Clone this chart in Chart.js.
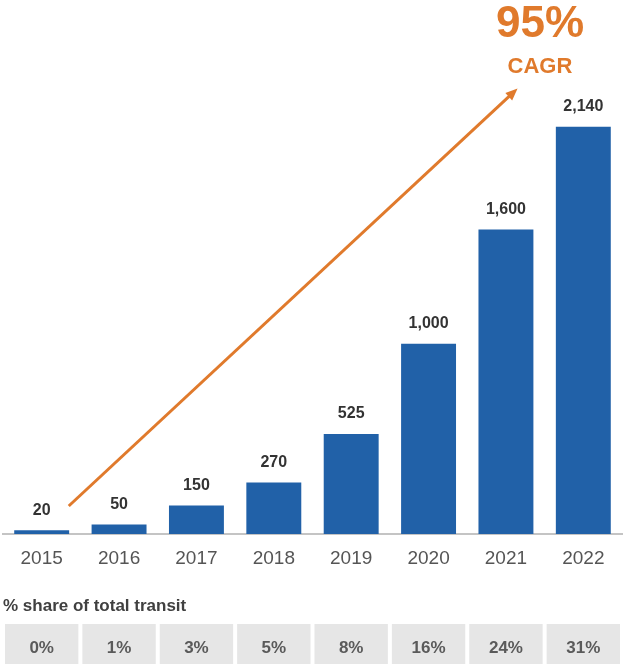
<!DOCTYPE html>
<html lang="en">
<head>
    <meta charset="UTF-8">
    <title>Transit growth 2015-2022</title>
    <script src="https://cdn.jsdelivr.net/npm/chart.js"></script>
    <style>
        html, body { margin: 0; padding: 0; background: #fff; }
        #wrap { width: 625px; height: 664px; position: relative; }
    </style>
</head>
<body>
    <div id="wrap">
        <canvas id="transitChart"></canvas>
    </div>

    <script>
        const years = ['2015', '2016', '2017', '2018', '2019', '2020', '2021', '2022'];
        const volumes = [20, 50, 150, 270, 525, 1000, 1600, 2140];
        const valueLabels = ['20', '50', '150', '270', '525', '1,000', '1,600', '2,140'];
        const shareLabels = ['0%', '1%', '3%', '5%', '8%', '16%', '24%', '31%'];
        const shareTitle = '% share of total transit';
        const cagrText = '95%';
        const cagrSub = 'CAGR';

        const BLUE = '#2161a8';
        const ORANGE = '#e07a2c';
        const FONT = '"Liberation Sans", Arial, sans-serif';

        // growth arrow, in category index / value units
        const arrowFrom = { x: 0.35, y: 147 };
        const arrowTo = { x: 6.15, y: 2340 };
        const cagrPos = { x: 6.44, y: 2675 };
        const cagrSubPos = { x: 6.44, y: 2455 };

        const overlay = {
            id: 'overlay',
            afterDatasetsDraw(chart) {
                const ctx = chart.ctx;
                const xs = chart.scales.x;
                const ys = chart.scales.y;
                const meta = chart.getDatasetMeta(0);

                ctx.save();
                // value labels over bars
                ctx.fillStyle = '#333';
                ctx.font = 'bold 16px ' + FONT;
                ctx.textAlign = 'center';
                ctx.textBaseline = 'middle';
                meta.data.forEach((bar, i) => {
                    ctx.fillText(valueLabels[i], bar.x, bar.y - 20);
                });

                // CAGR arrow
                const x1 = xs.getPixelForValue(arrowFrom.x), y1 = ys.getPixelForValue(arrowFrom.y);
                const x2 = xs.getPixelForValue(arrowTo.x), y2 = ys.getPixelForValue(arrowTo.y);
                const ang = Math.atan2(y2 - y1, x2 - x1);
                ctx.strokeStyle = ORANGE;
                ctx.fillStyle = ORANGE;
                ctx.lineWidth = 3;
                ctx.beginPath();
                ctx.moveTo(x1, y1);
                ctx.lineTo(x2 - 6 * Math.cos(ang), y2 - 6 * Math.sin(ang));
                ctx.stroke();
                ctx.beginPath();
                ctx.moveTo(x2, y2);
                ctx.lineTo(x2 - 12 * Math.cos(ang) + 5 * Math.sin(ang), y2 - 12 * Math.sin(ang) - 5 * Math.cos(ang));
                ctx.lineTo(x2 - 12 * Math.cos(ang) - 5 * Math.sin(ang), y2 - 12 * Math.sin(ang) + 5 * Math.cos(ang));
                ctx.closePath();
                ctx.fill();

                ctx.font = 'bold 44px ' + FONT;
                ctx.fillText(cagrText, xs.getPixelForValue(cagrPos.x), ys.getPixelForValue(cagrPos.y));
                ctx.font = 'bold 22px ' + FONT;
                ctx.fillText(cagrSub, xs.getPixelForValue(cagrSubPos.x), ys.getPixelForValue(cagrSubPos.y));

                // share table under the axis
                const base = chart.chartArea.bottom;
                ctx.fillStyle = '#404040';
                ctx.font = 'bold 17px ' + FONT;
                ctx.textAlign = 'left';
                ctx.fillText(shareTitle, 3, base + 72);

                const step = xs.getPixelForValue(1) - xs.getPixelForValue(0);
                const top = base + 90;
                ctx.font = 'bold 17px ' + FONT;
                ctx.textAlign = 'center';
                shareLabels.forEach((s, i) => {
                    const cx = xs.getPixelForValue(i);
                    ctx.fillStyle = '#e6e6e6';
                    ctx.fillRect(cx - step / 2 + 2, top, step - 4, chart.height - top);
                    ctx.fillStyle = '#5a5a5a';
                    ctx.fillText(s, cx, top + 24);
                });
                ctx.restore();
            }
        };

        new Chart(document.getElementById('transitChart'), {
            type: 'bar',
            data: {
                labels: years,
                datasets: [{
                    data: volumes,
                    backgroundColor: BLUE,
                    barPercentage: 0.71,
                    categoryPercentage: 1
                }]
            },
            options: {
                responsive: true,
                maintainAspectRatio: false,
                animation: false,
                layout: { padding: { top: 1, left: 3, right: 3, bottom: 100 } },
                plugins: {
                    legend: { display: false },
                    tooltip: { enabled: false }
                },
                scales: {
                    x: {
                        grid: { display: false, drawTicks: false },
                        border: { display: true, color: '#c4c4c4', width: 2 },
                        ticks: {
                            color: '#555',
                            padding: 13,
                            font: { family: FONT, size: 19 }
                        },
                        afterFit(scale) { scale.height = 30; }
                    },
                    y: {
                        display: false,
                        min: 0,
                        max: 2800
                    }
                }
            },
            plugins: [overlay]
        });
    </script>
</body>
</html>
